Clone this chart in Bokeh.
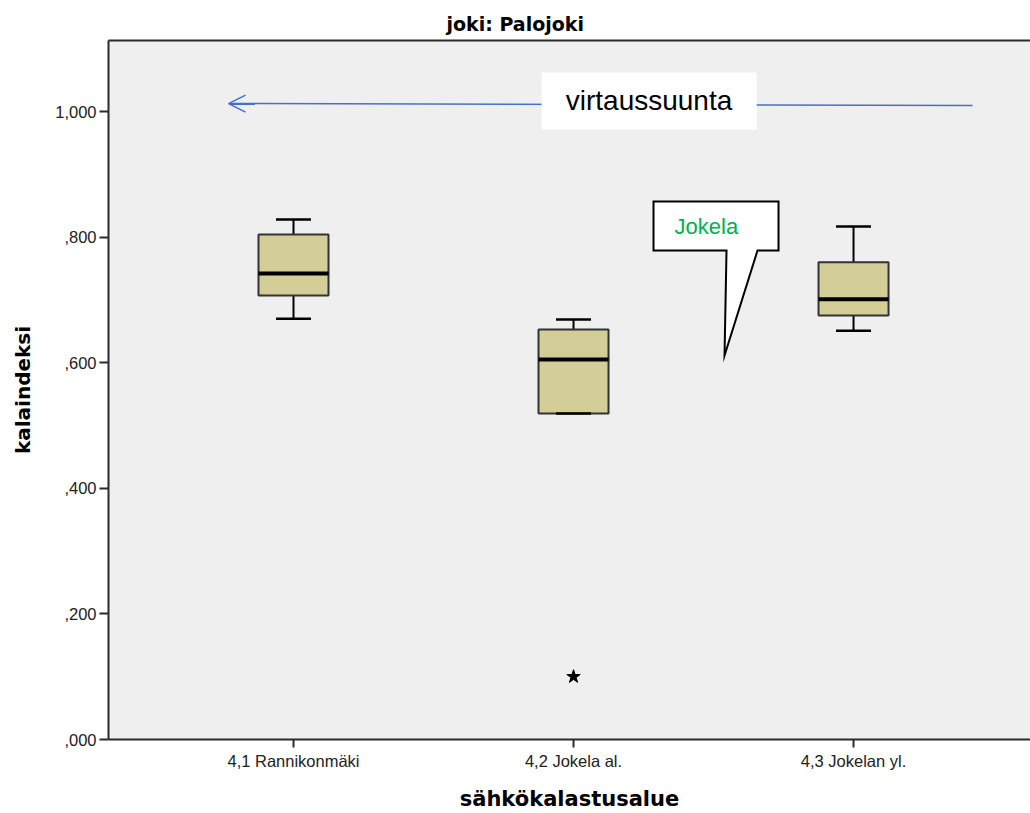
from bokeh.plotting import figure
from bokeh.models import (Range1d, FixedTicker, LinearAxis, Arrow, OpenHead,
                          ColumnDataSource)
from bokeh.core.properties import value
from bokeh.embed import file_html
from bokeh.resources import INLINE

# --- data: kalaindeksi per electrofishing area (boxplot summary) ---
categories = ["4,1 Rannikonmäki", "4,2 Jokela al.", "4,3 Jokelan yl."]
whisker_hi = [0.828, 0.669, 0.817]
q3 = [0.804, 0.653, 0.760]
median = [0.742, 0.605, 0.701]
q1 = [0.707, 0.519, 0.675]
whisker_lo = [0.670, 0.519, 0.651]
outlier_cat = [1]
outlier_val = [0.100]

y_ticks = [0.0, 0.2, 0.4, 0.6, 0.8, 1.0]
y_tick_labels = [",000", ",200", ",400", ",600", ",800", "1,000"]

BOX_W = 0.25
CAP_W = 0.125
FILL = "#D3CE98"
AXIS_COL = "#2b2b2b"

xs = list(range(len(categories)))
src = ColumnDataSource(dict(
    x=xs,
    x_box0=[x - BOX_W / 2 for x in xs],
    x_box1=[x + BOX_W / 2 for x in xs],
    x_cap0=[x - CAP_W / 2 for x in xs],
    x_cap1=[x + CAP_W / 2 for x in xs],
    hi=whisker_hi, q3=q3, med=median, q1=q1, lo=whisker_lo,
))

p = figure(width=1030, height=813, output_backend="svg", toolbar_location=None,
           x_range=Range1d(-0.6607, 2.632), y_range=Range1d(0, 1.1131),
           min_border_left=108, min_border_right=0, min_border_top=40,
           min_border_bottom=74)

p.background_fill_color = "#EFEFEF"
p.border_fill_color = "white"
p.outline_line_color = None
p.xgrid.visible = False
p.ygrid.visible = False

# title
p.title.text = "joki: Palojoki"
p.title.text_font = "DejaVu Sans"
p.title.text_font_style = "bold"
p.title.text_font_size = "19px"
p.title.text_color = "black"
p.title.align = "left"
p.title.offset = 338
p.title.standoff = 11

# axes
xa = p.xaxis[0]
xa.ticker = FixedTicker(ticks=xs)
xa.major_label_overrides = {i: c for i, c in enumerate(categories)}
xa.axis_label = "sähkökalastusalue"

ya = p.yaxis[0]
ya.ticker = FixedTicker(ticks=y_ticks)
ya.major_label_overrides = {t: l for t, l in zip(y_ticks, y_tick_labels)}
ya.axis_label = "kalaindeksi"

for ax in (xa, ya):
    ax.axis_line_color = AXIS_COL
    ax.axis_line_width = 2
    ax.major_tick_line_color = AXIS_COL
    ax.major_tick_line_width = 2
    ax.major_tick_in = 0
    ax.minor_tick_line_color = None
    ax.major_label_text_font = "Liberation Sans"
    ax.major_label_text_font_size = "16.5px"
    ax.major_label_text_color = "#222222"
    ax.axis_label_text_font = "DejaVu Sans"
    ax.axis_label_text_font_style = "bold"
    ax.axis_label_text_color = "black"

xa.major_tick_out = 8
xa.major_label_standoff = 4
xa.axis_label_text_font_size = "21px"
xa.axis_label_standoff = 14
ya.major_tick_out = 9
ya.major_label_standoff = 3
ya.axis_label_text_font_size = "20px"
ya.axis_label_standoff = 17

# top frame line
top = LinearAxis(ticker=FixedTicker(ticks=[]), axis_line_color=AXIS_COL,
                 axis_line_width=2, major_tick_line_color=None,
                 minor_tick_line_color=None, major_label_text_font_size="0px")
p.add_layout(top, "above")

# flow-direction arrow
p.add_layout(Arrow(end=OpenHead(size=17, line_color="#4472C4", line_width=1.5),
                   x_start=2.425, y_start=1.0096, x_end=-0.232, y_end=1.0127,
                   line_color="#4472C4", line_width=1.5, level="underlay"))

# whisker stems
p.segment(x0="x", y0="q3", x1="x", y1="hi", source=src, line_color="black", line_width=2)
p.segment(x0="x", y0="q1", x1="x", y1="lo", source=src, line_color="black", line_width=2)
# boxes
p.quad(left="x_box0", right="x_box1", bottom="q1", top="q3", source=src,
       fill_color=FILL, line_color="#333333", line_width=2)
# medians
p.segment(x0="x_box0", y0="med", x1="x_box1", y1="med", source=src,
          line_color="black", line_width=4)
# caps
p.segment(x0="x_cap0", y0="hi", x1="x_cap1", y1="hi", source=src, line_color="black", line_width=2.5)
p.segment(x0="x_cap0", y0="lo", x1="x_cap1", y1="lo", source=src, line_color="black", line_width=2.5)
# extreme value
p.scatter(x=outlier_cat, y=outlier_val, marker="star", size=14,
          fill_color="black", line_color="black")

# flow-direction label
p.quad(left=[0.886], right=[1.654], bottom=[0.9713], top=[1.0621],
       fill_color="white", line_color=None)
p.text(x=[1.2696], y=[1.0175], text=["virtaussuunta"], text_align="center",
       text_baseline="alphabetic", text_font=value("Liberation Sans"),
       text_font_size="28px", text_color="black")

# callout
p.patch(x=[1.2857, 1.7321, 1.7321, 1.6571, 1.5393, 1.5464, 1.2857],
        y=[0.8567, 0.8567, 0.7787, 0.7787, 0.6115, 0.7787, 0.7787],
        fill_color="white", line_color="black", line_width=2, line_join="miter")
p.text(x=[1.3607], y=[0.8168], text=["Jokela"], text_align="left",
       text_baseline="alphabetic", text_font=value("Liberation Sans"),
       text_font_size="22px", text_color="#00B050")

open("out.html", "w").write(file_html(p, INLINE))
